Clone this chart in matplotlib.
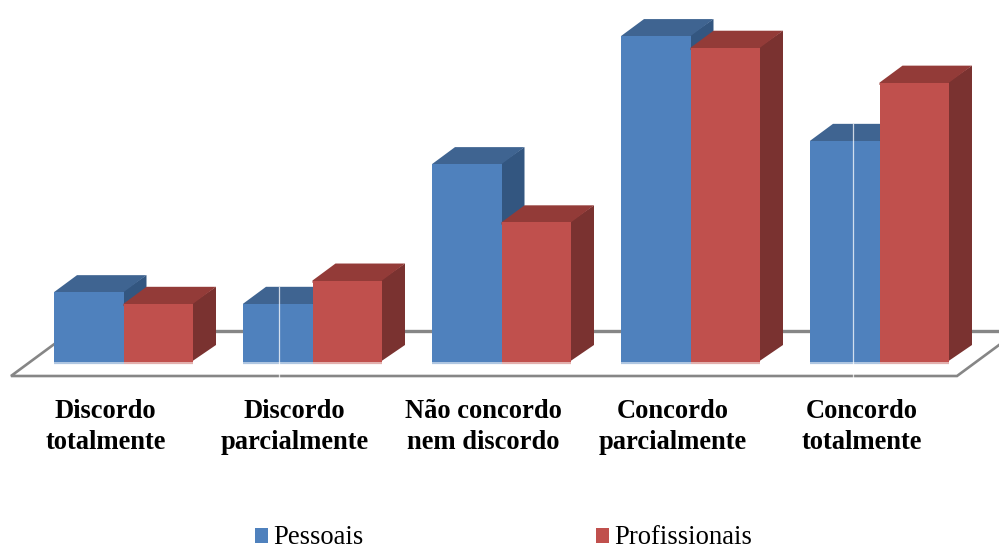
import matplotlib
matplotlib.use("Agg")
import matplotlib.pyplot as plt
from matplotlib.patches import Patch

plt.rcParams['font.family'] = ['Liberation Serif', 'DejaVu Serif']

categories = ["Discordo\ntotalmente", "Discordo\nparcialmente", "Não concordo\nnem discordo",
              "Concordo\nparcialmente", "Concordo\ntotalmente"]
pessoais = [6, 5, 17, 28, 19]
profissionais = [5, 7, 12, 27, 24]
series_names = ["Pessoais", "Profissionais"]

W, H = 999, 549
PX_X = 189.0    # pixels per category
PX_Y = 11.64    # pixels per value unit
X0 = 123.5      # pixel position of the first category
Y0 = 362.0      # pixel position of value 0

fig = plt.figure(figsize=(W / 100, H / 100), dpi=100)
ax = fig.add_axes([0, 0, 1, 1])
ax.set_xlim(-X0 / PX_X, (W - X0) / PX_X)
ax.set_ylim(-(H - Y0) / PX_Y, Y0 / PX_Y)
ax.axis('off')

bw = 69.5 / PX_X
dx = 23 / PX_X
dy = 17 / PX_Y

# floor
fx0, fx1 = -112.5 / PX_X, 833.5 / PX_X
fy = -14 / PX_Y
fdx, fdy = 61 / PX_X, 45 / PX_Y
grey = "#868686"
ax.plot([fx0 + fdx, fx1 + fdx], [fy + fdy, fy + fdy], color=grey, lw=2.4, zorder=1, solid_capstyle='butt')
ax.plot([fx1 + fdx, fx1, fx0, fx0 + fdx], [fy + fdy, fy, fy, fy + fdy], color=grey, lw=1.9, zorder=1,
        solid_joinstyle='miter')

def box(x, h, front, top, side, z):
    lap = 0.2  # faces run slightly under the front face so no seam shows
    ax.fill([x + bw - 0.01, x + bw + dx, x + bw + dx, x + bw - 0.01], [0, dy, h + dy, h], color=side, lw=0, zorder=z)
    ax.fill([x, x + dx, x + bw + dx, x + bw, x + bw, x], [h, h + dy, h + dy, h, h - lap, h - lap], color=top, lw=0, zorder=z)
    ax.bar(x, h, width=bw, align='edge', color=front, lw=0, zorder=z + 0.1)
    ax.plot([x, x + bw], [-0.07, -0.07], color=front, alpha=0.45, lw=1.6, zorder=z, solid_capstyle='butt')

blue = ("#4F81BD", "#3F6491", "#335680")
red = ("#C0504D", "#933B38", "#7A3230")
for i, (a, b) in enumerate(zip(pessoais, profissionais)):
    box(i - bw, a, *blue, 2 + i)
    box(i, b, *red, 2.5 + i)

# thin light seams seen in the reference
for i in (1, 4):
    x = i - (33.5 if i == 1 else 26.5) / PX_X
    top = pessoais[i] + dy
    ax.plot([x, x], [fy - 0.15, top], color="white", alpha=0.75, lw=0.9, zorder=i + 2.2)

for i, c in enumerate(categories):
    ax.text(i - 18 / PX_X, -(36.5) / PX_Y, c, ha='center', va='top', fontsize=19.1, fontweight='bold',
            color="black", linespacing=1.33, zorder=20)

handles = [Patch(color=blue[0], lw=0), Patch(color=red[0], lw=0)]
ax.legend(handles, series_names, ncol=2, loc='center', bbox_to_anchor=(503.5 / W, 1 - 538 / H),
          frameon=False, fontsize=19.2, handlelength=0.49, handleheight=0.49, handletextpad=0.19,
          columnspacing=8.7, borderpad=0, borderaxespad=0)

fig.savefig("out.png", dpi=100)
